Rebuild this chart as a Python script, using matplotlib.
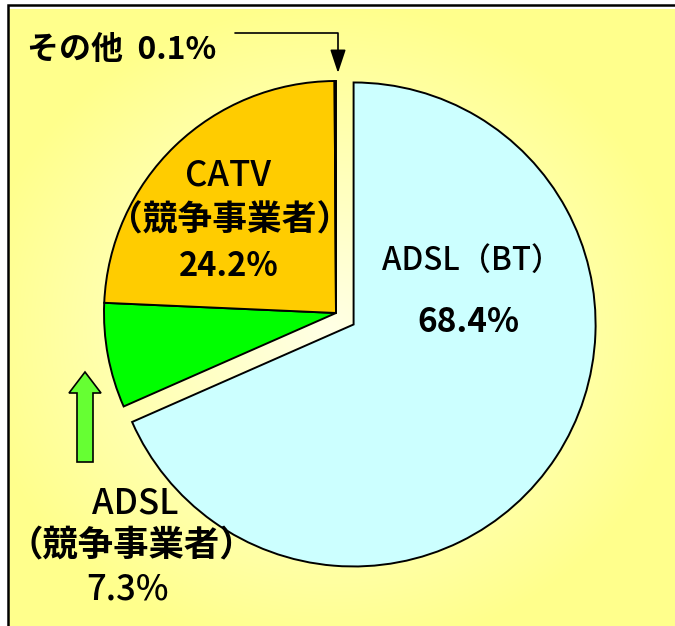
import numpy as np
import matplotlib
matplotlib.use('Agg')
import matplotlib.pyplot as plt
import matplotlib.patches as mpatches

plt.rcParams['font.family'] = ['Noto Sans CJK JP', 'DejaVu Sans']

# data
labels = ['ADSL（BT）', 'ADSL（競争事業者）', 'CATV（競争事業者）', 'その他']
shares = [68.4, 7.3, 24.2, 0.1]
colors = ['#CCFFFF', '#00FF00', '#FFCC00', '#FF9900']

W, H = 675, 626


def Y(y):
    # image row -> data y
    return H - y


fig = plt.figure(figsize=(W / 100, H / 100), dpi=100)
fig.patch.set_facecolor('white')
ax = fig.add_axes([0, 0, 1, 1])

# background: yellow, lighter in the middle
gx, gy = np.meshgrid(np.linspace(8, W, 300), np.linspace(9, H, 300))
d = np.sqrt((gx - 330) ** 2 + ((gy - 330) * 1.1) ** 2) / 360
t = np.clip(d, 0, 1)[..., None]
light = np.array([1.0, 1.0, 0.90])
dark = np.array([1.0, 1.0, 0.55])
img = light * (1 - t) + dark * t
ax.imshow(img, extent=[8, W, Y(H), Y(9)], origin='upper', zorder=0, aspect='auto')
ax.add_patch(mpatches.Rectangle((8, Y(H) - 5), W, H, fill=False, ec='black', lw=1.8, zorder=1))

# pie
wedges, _ = ax.pie(shares, colors=colors, startangle=90, counterclock=False,
                   center=(336, Y(313)), radius=232, explode=[21, 0, 0, 0],
                   wedgeprops=dict(edgecolor='black', linewidth=1.4))
wedges[0].set_radius(242)
for w in wedges:
    w.set_zorder(2)

ax.set_xlim(0, W)
ax.set_ylim(0, H)
ax.set_aspect('auto')
ax.axis('off')

# labels
txt = dict(ha='center', va='center', zorder=5)
ax.text(472, Y(261), 'ADSL（BT）', fontsize=22.5, fontweight='medium', **txt)
ax.text(468, Y(323), f'{shares[0]}%', fontsize=24, fontweight='bold', **txt)

ax.text(228, Y(176), 'CATV', fontsize=25, fontweight='medium', **txt)
ax.text(230, Y(220), '（競争事業者）', fontsize=25, fontweight='bold', **txt)
ax.text(229, Y(267), f'{shares[2]}%', fontsize=23.5, fontweight='bold', **txt)

ax.text(135, Y(504), 'ADSL', fontsize=25, fontweight='medium', **txt)
ax.text(131, Y(546), '（競争事業者）', fontsize=25.5, fontweight='bold', **txt)
ax.text(128, Y(590), f'{shares[1]}%', fontsize=25, fontweight='medium', **txt)

ax.text(27, Y(50), f'その他  {shares[3]}%', fontsize=23, fontweight='bold',
        ha='left', va='center', zorder=5)

# arrow for the 0.1% slice
ax.annotate('', xy=(338, Y(73)), xytext=(235, Y(33)),
            arrowprops=dict(arrowstyle='-|>,head_length=0.9,head_width=0.3',
                            connectionstyle='angle,angleA=0,angleB=90,rad=0',
                            mutation_scale=16, lw=1.2, color='black',
                            shrinkA=0, shrinkB=0), zorder=5)

# green arrow pointing to the small ADSL slice
ax.add_patch(mpatches.FancyArrow(85, Y(462), 0, 462 - 372, width=16, head_width=32,
                                 head_length=21, length_includes_head=True,
                                 fc='#66FF33', ec='black', lw=1.2, zorder=5))

fig.savefig('out.png', dpi=100)
